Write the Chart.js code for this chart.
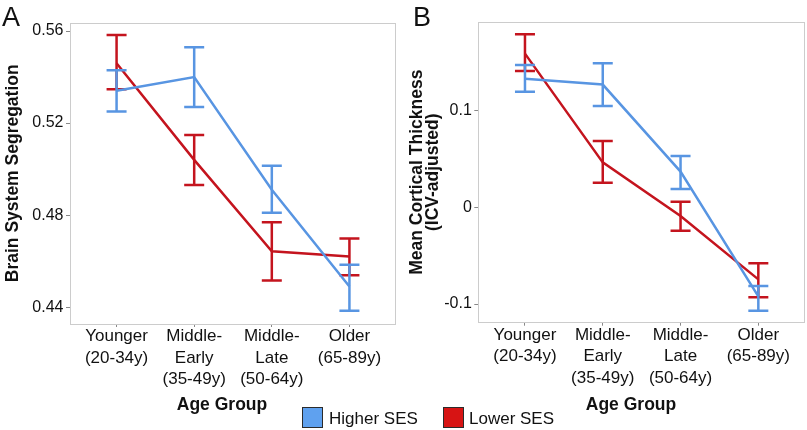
<!DOCTYPE html>
<html>
<head>
<meta charset="utf-8">
<script src="https://cdn.jsdelivr.net/npm/chart.js@4/dist/chart.umd.min.js"></script>
<style>
  html, body { margin:0; padding:0; background:#fff; overflow:hidden; }
  body { width:807px; height:430px; position:relative; font-family:'Liberation Sans', Arial, Helvetica, sans-serif; color:#111; }
  .cv { position:absolute; top:0; }
  .lbl { position:absolute; white-space:nowrap; }
  .panel { font-size:27px; line-height:27px; }
  .xt { font-size:17.5px; font-weight:bold; line-height:20px; width:200px; text-align:center; }
  .lg { font-size:17px; line-height:20px; }
  .sw { position:absolute; width:19px; height:19px; border:1.5px solid #2b2b2b; }
</style>
</head>
<body>
<canvas id="cA" class="cv" style="left:0" width="400" height="430"></canvas>
<canvas id="cB" class="cv" style="left:400px" width="407" height="430"></canvas>

<div class="lbl panel" style="left:2px;top:4px">A</div>
<div class="lbl panel" style="left:413px;top:4px">B</div>
<div class="lbl xt" style="left:122px;top:394px">Age Group</div>
<div class="lbl xt" style="left:531px;top:394px">Age Group</div>
<div class="sw" style="left:302px;top:407px;background:#5fa1ef"></div>
<div class="lbl lg" style="left:329px;top:409px">Higher SES</div>
<div class="sw" style="left:443px;top:407px;background:#d71414"></div>
<div class="lbl lg" style="left:469px;top:409px">Lower SES</div>

<script>
// ---- data ----
const categories = [
  ['Younger', '(20-34y)'],
  ['Middle-', 'Early', '(35-49y)'],
  ['Middle-', 'Late', '(50-64y)'],
  ['Older', '(65-89y)']
];
const seriesNames = ['Higher SES', 'Lower SES'];

// Panel A: Brain System Segregation
const higherA    = [0.534, 0.540, 0.491, 0.449];
const higherA_lo = [0.525, 0.527, 0.481, 0.4385];
const higherA_hi = [0.543, 0.553, 0.5015, 0.4584];
const lowerA     = [0.546, 0.504, 0.4643, 0.462];
const lowerA_lo  = [0.5347, 0.4931, 0.4516, 0.4539];
const lowerA_hi  = [0.5583, 0.5148, 0.4769, 0.4698];
const yTicksA = [0.44, 0.48, 0.52, 0.56];
const yTickLabelsA = ['0.44', '0.48', '0.52', '0.56'];

// Panel B: Mean Cortical Thickness (ICV-adjusted)
const higherB    = [0.133, 0.127, 0.037, -0.092];
const higherB_lo = [0.1195, 0.1048, 0.0189, -0.1069];
const higherB_hi = [0.1471, 0.1489, 0.0530, -0.0814];
const lowerB     = [0.159, 0.0465, -0.009, -0.0745];
const lowerB_lo  = [0.1409, 0.0254, -0.0242, -0.0931];
const lowerB_hi  = [0.1789, 0.0686, 0.0058, -0.0579];
const yTicksB = [-0.1, 0, 0.1];
const yTickLabelsB = ['-0.1', '0', '0.1'];

// ---- styling ----
const BLUE = '#5895e2';
const RED = '#c4141e';
Chart.defaults.font.family = "'Liberation Sans', Arial, Helvetica, sans-serif";
Chart.defaults.color = '#111';

const errorBarPlugin = {
  id: 'errbars',
  afterDatasetDraw(chart, args) {
    const ds = chart.data.datasets[args.index];
    if (!ds.errLo) return;
    const ctx = chart.ctx, xs = chart.scales.x, ys = chart.scales.y;
    ctx.save();
    ctx.strokeStyle = ds.borderColor;
    ctx.lineWidth = 2.5;
    ctx.lineCap = 'butt';
    const half = 10;
    ds.data.forEach((p, i) => {
      const x = xs.getPixelForValue(p.x);
      const yl = ys.getPixelForValue(ds.errLo[i]);
      const yh = ys.getPixelForValue(ds.errHi[i]);
      ctx.beginPath();
      ctx.moveTo(x, yl); ctx.lineTo(x, yh);
      ctx.moveTo(x - half, yl); ctx.lineTo(x + half, yl);
      ctx.moveTo(x - half, yh); ctx.lineTo(x + half, yh);
      ctx.stroke();
    });
    ctx.restore();
  },
  afterDraw(chart) {
    const a = chart.chartArea, ctx = chart.ctx;
    ctx.save();
    ctx.strokeStyle = '#cccccc';
    ctx.lineWidth = 1;
    ctx.strokeRect(Math.round(a.left) + 0.5, Math.round(a.top) + 0.5,
                   Math.round(a.right - a.left) - 1, Math.round(a.bottom - a.top) - 1);
    ctx.restore();
  }
};

function pts(arr) { return arr.map((v, i) => ({ x: i, y: v })); }

function makeChart(id, cfg) {
  return new Chart(document.getElementById(id), {
    type: 'line',
    data: {
      datasets: [
        { label: seriesNames[0], data: pts(cfg.hi), errLo: cfg.hiLo, errHi: cfg.hiHi,
          borderColor: BLUE, backgroundColor: BLUE, borderWidth: 2.5, pointRadius: 0, tension: 0 },
        { label: seriesNames[1], data: pts(cfg.lo), errLo: cfg.loLo, errHi: cfg.loHi,
          borderColor: RED, backgroundColor: RED, borderWidth: 2.5, pointRadius: 0, tension: 0 }
      ]
    },
    options: {
      responsive: false,
      animation: false,
      devicePixelRatio: 1,
      layout: { padding: { left: 0, top: cfg.top, right: cfg.right, bottom: 0 } },
      plugins: { legend: { display: false }, tooltip: { enabled: false } },
      scales: {
        x: {
          type: 'linear', min: -0.6, max: 3.6,
          afterBuildTicks(s) { s.ticks = categories.map((c, i) => ({ value: i })); },
          afterFit(s) { s.height = cfg.xh; },
          grid: { drawOnChartArea: false, drawTicks: true, tickLength: 3, tickColor: '#888' },
          border: { display: false },
          ticks: {
            autoSkip: false, maxRotation: 0, padding: -1, color: '#111',
            font: { size: 17, lineHeight: 1.25 },
            callback: (v) => categories[v]
          }
        },
        y: {
          min: cfg.ymin, max: cfg.ymax,
          afterBuildTicks(s) { s.ticks = cfg.yTicks.map(v => ({ value: v })); },
          afterFit(s) { s.width = cfg.yw; },
          grid: { drawOnChartArea: false, drawTicks: true, tickLength: 4, tickColor: '#888' },
          border: { display: false },
          ticks: {
            padding: 2.5, color: '#111', font: { size: 16 },
            callback: (v) => cfg.yTickLabels[cfg.yTicks.findIndex(t => Math.abs(t - v) < 1e-9)]
          },
          title: {
            display: true, text: cfg.title, color: '#111',
            font: { size: 17.5, weight: 'bold', lineHeight: 0.95 },
            padding: { top: cfg.titlePad, bottom: 0 }
          }
        }
      }
    },
    plugins: [errorBarPlugin]
  });
}

makeChart('cA', {
  hi: higherA, hiLo: higherA_lo, hiHi: higherA_hi,
  lo: lowerA, loLo: lowerA_lo, loHi: lowerA_hi,
  ymin: 0.4327, ymax: 0.5637, yTicks: yTicksA, yTickLabels: yTickLabelsA,
  title: 'Brain System Segregation', titlePad: 4.7,
  top: 22.5, right: 4, xh: 106, yw: 70
});
makeChart('cB', {
  hi: higherB, hiLo: higherB_lo, hiHi: higherB_hi,
  lo: lowerB, loLo: lowerB_lo, loHi: lowerB_hi,
  ymin: -0.1193, ymax: 0.192, yTicks: yTicksB, yTickLabels: yTickLabelsB,
  title: ['Mean Cortical Thickness', '(ICV-adjusted)'], titlePad: 8.4,
  top: 21.7, right: 2, xh: 107.3, yw: 78.3
});
</script>
</body>
</html>
